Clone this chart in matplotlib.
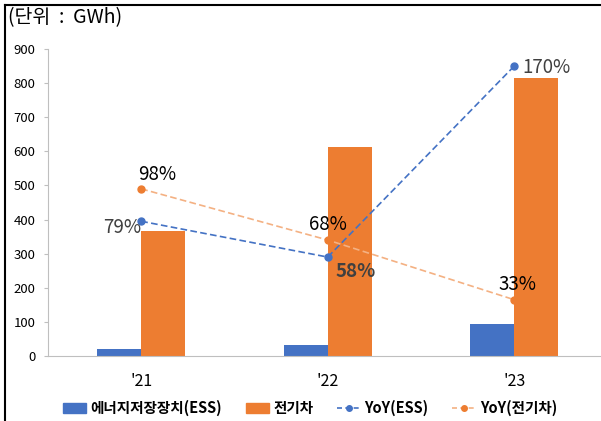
import matplotlib
matplotlib.use("Agg")
import matplotlib.pyplot as plt
import numpy as np
from matplotlib.lines import Line2D
from matplotlib.patches import Patch

plt.rcParams['font.family'] = ['Noto Sans CJK KR', 'DejaVu Sans']

# 데이터 (GWh, %)
years = ["'21", "'22", "'23"]
ess = [20, 33, 94]
ev = [367, 614, 814]
yoy_ess = [79, 58, 170]
yoy_ev = [98, 68, 33]

blue = '#4472C4'
orange = '#ED7D31'

fig = plt.figure(figsize=(6.01, 4.21), dpi=100)
ax = fig.add_axes([48 / 601, 65 / 421, 559.5 / 601, 307 / 421])
ax2 = ax.twinx()

x = np.arange(len(years))
w = 0.236
ax.bar(x - w / 2, ess, w, color=blue, zorder=2)
ax.bar(x + w / 2, ev, w, color=orange, zorder=2)

ax.set_xlim(-0.5, 2.5)
ax.set_ylim(0, 900)
ax.set_yticks(range(0, 901, 100))
ax.tick_params(axis='y', labelsize=9.5, length=3, color='#bfbfbf', pad=6)
ax.tick_params(axis='x', length=0, labelsize=11.5, pad=12)
ax.set_xticks(x)
ax.set_xticklabels(years)
for s in ['top', 'right']:
    ax.spines[s].set_visible(False)
for s in ['left', 'bottom']:
    ax.spines[s].set_color('#bfbfbf')
    ax.spines[s].set_linewidth(0.8)

# 보조축 (숨김): 0~180%
ax2.set_ylim(0, 180)
ax2.axis('off')
ax2.plot(x, yoy_ess, color=blue, ls=(0, (4, 2)), lw=1.2, marker='o', ms=5, zorder=3)
ax2.plot(x, yoy_ev, color='#F4B183', ls=(0, (4, 2)), lw=1.2, marker='o', ms=5,
         mfc=orange, mec=orange, zorder=3)

# 라벨
ess_off = [(0, -6, 'right', 'center', 'normal'),
           (8, -14, 'left', 'center', 'bold'),
           (8, -1, 'left', 'center', 'normal')]
ev_off = [(-3, 14, 'left', 'center', 'normal'),
          (0, 16, 'center', 'center', 'normal'),
          (3, 15, 'center', 'center', 'normal')]
for i in range(3):
    dx, dy, ha, va, fw = ess_off[i]
    ax2.annotate(f"{yoy_ess[i]}%", (x[i], yoy_ess[i]), xytext=(dx, dy),
                 textcoords='offset pixels', ha=ha, va=va, fontsize=13.5,
                 color='#404040', fontweight=fw, zorder=5)
    dx, dy, ha, va, fw = ev_off[i]
    ax2.annotate(f"{yoy_ev[i]}%", (x[i], yoy_ev[i]), xytext=(dx, dy),
                 textcoords='offset pixels', ha=ha, va=va, fontsize=13.5,
                 color='black', fontweight=fw, zorder=5)

fig.text(8 / 601, 1 - 7 / 421, "(단위  :  GWh)", fontsize=14, va='top', ha='left')

# 범례
handles = [Patch(color=blue), Patch(color=orange),
           Line2D([], [], color=blue, ls=(0, (3, 2)), lw=1.2, marker='o', ms=4),
           Line2D([], [], color='#F4B183', ls=(0, (3, 2)), lw=1.2, marker='o', ms=4,
                  mfc=orange, mec=orange)]
labels = ['에너지저장장치(ESS)', '전기차', 'YoY(ESS)', 'YoY(전기차)']
fig.legend(handles, labels, loc='center', bbox_to_anchor=(310 / 601, 1 - 408 / 421),
           ncol=4, frameon=False, prop={'weight': 'bold', 'size': 10.5},
           handlelength=1.6, handletextpad=0.3, columnspacing=1.6)

# 바깥 테두리
fig.add_artist(Line2D([5 / 601, 5 / 601], [0, 1 - 5 / 421], color='black', lw=1.5))
fig.add_artist(Line2D([5 / 601, 1], [1 - 5 / 421, 1 - 5 / 421], color='black', lw=1.5))

fig.savefig('out.png', dpi=100)
